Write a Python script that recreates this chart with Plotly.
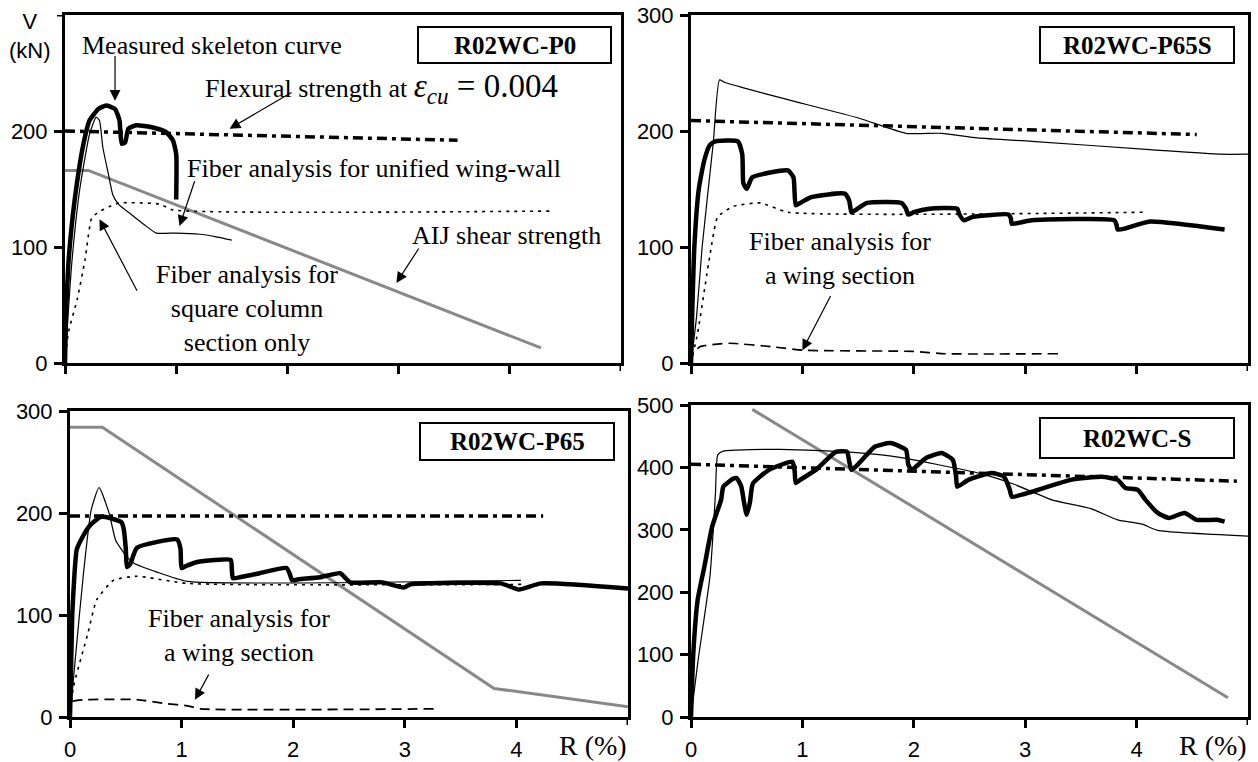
import plotly.graph_objects as go

# ---------------- data (R in %, V in kN) ----------------
# R02WC-P0 (top-left)
tl_meas_x = [0, 0.01, 0.03, 0.06, 0.1, 0.16, 0.22, 0.3, 0.37, 0.45, 0.49, 0.51, 0.54, 0.57, 0.64, 0.79, 0.91, 0.97, 1.0, 1.0]
tl_meas_y = [0, 45, 85, 118, 150, 186, 209, 219, 222, 219, 209, 189, 190, 202, 205, 203, 199, 192, 180, 141]
tl_unif_x = [0, 0.02, 0.06, 0.13, 0.22, 0.28, 0.31, 0.34, 0.39, 0.43, 0.48, 0.61, 0.73, 0.82, 1.0, 1.21, 1.35, 1.5]
tl_unif_y = [0, 30, 85, 148, 197, 212, 209, 186, 163, 145, 137, 127, 118, 112, 112, 111, 109, 106]
tl_col_x = [0, 0.03, 0.11, 0.18, 0.24, 0.3, 0.4, 0.49, 0.85, 0.97, 4.4]
tl_col_y = [0, 26, 55, 89, 125, 130, 135, 138, 137, 132, 131]
tl_flex_x = [0, 3.53]
tl_flex_y = [200, 192]
tl_aij_x = [0, 0.21, 4.28]
tl_aij_y = [166, 166, 13]

# R02WC-P65S (top-right)
tr_meas_x = [0, 0.01, 0.03, 0.07, 0.12, 0.17, 0.22, 0.42, 0.46, 0.47, 0.5, 0.55, 0.87, 0.92, 0.94, 0.98, 1.08, 1.38,
             1.42, 1.44, 1.48, 1.58, 1.89, 1.93, 1.95, 2.0, 2.14, 2.39, 2.41, 2.45, 2.53, 2.85, 2.87, 2.88, 2.95,
             3.06, 3.8, 3.82, 3.83, 3.9, 4.12, 4.79]
tr_meas_y = [0, 40, 100, 150, 175, 188, 191, 191, 180, 155, 150, 160, 166, 160, 136, 138, 143, 146,
             140, 130, 132, 138, 138, 133, 128, 130, 133, 133, 128, 123, 126, 128, 125, 120, 121,
             123, 123, 119, 115, 116, 122, 115]
tr_unif_x = [0, 0.05, 0.1, 0.2, 0.255, 0.3, 0.48, 0.87, 1.51, 1.93, 2.25, 2.57, 3.06, 4.12, 4.75, 5.0]
tr_unif_y = [0, 40, 100, 190, 244, 242, 237, 227, 211, 198, 198, 194, 191, 184, 180, 180]
tr_col_x = [0, 0.06, 0.17, 0.24, 0.38, 0.625, 0.87, 4.1]
tr_col_y = [0, 26, 93, 126, 135, 138, 130, 130]
tr_wing_x = [0, 0.02, 0.08, 0.34, 0.73, 1.01, 1.99, 2.28, 3.3]
tr_wing_y = [0, 8, 14, 17, 14, 11, 10, 8, 8]
tr_flex_x = [0, 4.54]
tr_flex_y = [209, 197]

# R02WC-P65 (bottom-left)
bl_meas_x = [0, 0.01, 0.02, 0.04, 0.06, 0.11, 0.18, 0.27, 0.32, 0.46, 0.48, 0.5, 0.51, 0.54, 0.6, 0.96, 0.99, 1.0,
             1.04, 1.14, 1.44, 1.45, 1.46, 1.52, 1.7, 1.94, 1.97, 1.99, 2.05, 2.24, 2.42, 2.47, 2.51, 2.8, 2.99,
             3.05, 3.86, 4.02, 4.22, 5.0]
bl_meas_y = [0, 50, 100, 140, 164, 176, 188, 196, 196, 191, 185, 165, 147, 150, 166, 174, 165, 146,
             148, 152, 154, 145, 136, 137, 141, 146, 140, 134, 135, 137, 141, 136, 132, 132, 127,
             130, 131, 125, 131, 126]
bl_unif_x = [0, 0.05, 0.12, 0.19, 0.26, 0.35, 0.41, 0.51, 0.57, 0.78, 1.05, 4.04]
bl_unif_y = [0, 60, 140, 203, 225, 200, 173, 157, 151, 142, 133, 134]
bl_col_x = [0, 0.03, 0.16, 0.24, 0.39, 0.6, 1.05, 4.06]
bl_col_y = [0, 29, 82, 115, 134, 138, 131, 130]
bl_wing_x = [0, 0.02, 0.15, 0.6, 0.87, 1.05, 1.17, 3.26]
bl_wing_y = [0, 15, 17, 17, 13, 11, 8, 8]
bl_flex_x = [0, 4.24]
bl_flex_y = [197, 197]
bl_aij_x = [0, 0.29, 3.8, 5.0]
bl_aij_y = [284, 284, 28, 10]

# R02WC-S (bottom-right)
br_meas_x = [0, 0.02, 0.06, 0.12, 0.19, 0.27, 0.29, 0.38, 0.41, 0.45, 0.48, 0.5, 0.53, 0.555, 0.7, 0.91, 0.93,
             0.94, 0.98, 1.12, 1.3, 1.4, 1.42, 1.44, 1.5, 1.65, 1.79, 1.93, 1.95, 1.98, 2.11, 2.25, 2.35, 2.38,
             2.39, 2.49, 2.7, 2.81, 2.86, 2.88, 3.06, 3.41, 3.69, 3.83, 3.9, 4.01, 4.08, 4.19, 4.29, 4.43,
             4.54, 4.72, 4.79]
br_meas_y = [0, 100, 188, 241, 305, 348, 369, 382, 383, 370, 340, 324, 345, 374, 396, 409, 395,
             375, 380, 396, 425, 425, 410, 396, 405, 433, 439, 428, 405, 396, 415, 423, 412, 385,
             369, 380, 391, 385, 365, 353, 361, 380, 385, 380, 367, 364, 348, 327, 319, 327,
             316, 316, 313]
br_unif_x = [0, 0.06, 0.17, 0.2, 0.22, 0.24, 0.29, 0.8, 1.4, 1.8, 2.2, 2.6, 2.9, 3.24, 3.59, 3.83, 4.05, 4.19, 5.0]
br_unif_y = [0, 86, 225, 300, 360, 420, 426, 429, 425, 418, 405, 390, 373, 348, 334, 316, 309, 299, 290]
br_flex_x = [0, 4.9]
br_flex_y = [405, 378]
br_aij_x = [0.55, 4.82]
br_aij_y = [493, 31]

panel_titles = ["R02WC-P0", "R02WC-P65S", "R02WC-P65", "R02WC-S"]
x_ticks = [0, 1, 2, 3, 4]
x_ticktext = ["0", "1", "2", "3", "4"]
x_max = 5

# ---------------- layout helpers ----------------
W, H = 1258, 762
def fx(px):
    return px / W
def fy(py):
    return 1 - py / H

SERIF = "Liberation Serif, Times New Roman, serif"
SANS = "Liberation Sans, Arial, sans-serif"
GREY = "#888888"

fig = go.Figure()

def add_line(ax, x, y, width, dash="solid", color="black", shape="linear"):
    fig.add_trace(go.Scatter(x=x, y=y, mode="lines", xaxis="x" + ax, yaxis="y" + ax,
                             showlegend=False, hoverinfo="skip",
                             line=dict(color=color, width=width, dash=dash, shape=shape,
                                       smoothing=0.5 if shape == "spline" else None)))

FLEX = "10px,5px,4px,5px"
DOT = "3px,5px"
DASH = "10px,6px"

# top-left  (axis "")
add_line("", tl_aij_x, tl_aij_y, 3, color=GREY)
add_line("", tl_col_x, tl_col_y, 1.6, DOT, shape="spline")
add_line("", tl_flex_x, tl_flex_y, 3.5, FLEX)
add_line("", tl_unif_x, tl_unif_y, 1.2, shape="spline")
add_line("", tl_meas_x, tl_meas_y, 4.5, shape="spline")
# top-right (axis 2)
add_line("2", tr_col_x, tr_col_y, 1.6, DOT, shape="spline")
add_line("2", tr_wing_x, tr_wing_y, 1.6, DASH, shape="spline")
add_line("2", tr_flex_x, tr_flex_y, 3.5, FLEX)
add_line("2", tr_unif_x, tr_unif_y, 1.2, shape="spline")
add_line("2", tr_meas_x, tr_meas_y, 4.5, shape="spline")
# bottom-left (axis 3)
add_line("3", bl_aij_x, bl_aij_y, 3, color=GREY)
add_line("3", bl_col_x, bl_col_y, 1.6, DOT, shape="spline")
add_line("3", bl_wing_x, bl_wing_y, 1.8, DASH, shape="spline")
add_line("3", bl_flex_x, bl_flex_y, 3.5, FLEX)
add_line("3", bl_unif_x, bl_unif_y, 1.2, shape="spline")
add_line("3", bl_meas_x, bl_meas_y, 4.5, shape="spline")
# bottom-right (axis 4)
add_line("4", br_aij_x, br_aij_y, 3, color=GREY)
add_line("4", br_flex_x, br_flex_y, 3.5, FLEX)
add_line("4", br_unif_x, br_unif_y, 1.2, shape="spline")
add_line("4", br_meas_x, br_meas_y, 4.5, shape="spline")

# axes
panels = [
    ("", (65, 621), (15, 363), 300, False),
    ("2", (691, 1248), (15, 363), 300, False),
    ("3", (70, 628), (411, 717), 300, True),
    ("4", (691, 1248), (405, 717), 500, True),
]
common = dict(showline=True, linewidth=3, linecolor="black", mirror=True, ticks="outside",
              ticklen=8, tickwidth=3, tickcolor="black", showgrid=False, zeroline=False,
              automargin=False, tickfont=dict(family=SANS, size=22, color="black"))
lay = {}
shapes = []
for key, (x0, x1), (y0, y1), ymax, xlab in panels:
    yt = list(range(0, ymax + 1, 100))
    if key == "":
        yt = yt[:-1]
        # unlabeled tick at the top of the V axis
        shapes.append(dict(type="line", xref="x domain", yref="y", x0=0, x1=-8 / (x1 - x0),
                           y0=ymax, y1=ymax, line=dict(color="black", width=3)))
    lay["xaxis" + key] = dict(domain=[fx(x0), fx(x1)], range=[0, x_max], anchor="y" + key,
                              tickvals=x_ticks, ticktext=x_ticktext, showticklabels=xlab,
                              ticklabelstandoff=3, **common)
    lay["yaxis" + key] = dict(domain=[fy(y1), fy(y0)], range=[0, ymax], anchor="x" + key,
                              tickvals=yt, ticktext=[str(v) for v in yt], ticklabelstandoff=2, **common)
    # unlabeled tick at R = 5 %
    shapes.append(dict(type="line", xref="x" + key, yref="y" + key + " domain", x0=x_max, x1=x_max,
                       y0=0, y1=-8 / (y1 - y0), line=dict(color="black", width=3)))
fig.update_layout(**lay)

# title boxes
boxes = [((418, 611), (27, 63)), ((1040, 1234), (27, 63)), ((420, 614), (423, 460)), ((1040, 1234), (418, 458))]
ann = []
for title, ((bx0, bx1), (by0, by1)) in zip(panel_titles, boxes):
    shapes.append(dict(type="rect", xref="paper", yref="paper", x0=fx(bx0), x1=fx(bx1), y0=fy(by1), y1=fy(by0),
                       line=dict(color="black", width=2), fillcolor="white", layer="above"))
    ann.append(dict(xref="paper", yref="paper", x=fx((bx0 + bx1) / 2), y=fy((by0 + by1) / 2),
                    text="<b>" + title + "</b>", showarrow=False, xanchor="center", yanchor="middle",
                    font=dict(family=SERIF, size=25, color="black")))

TXT = dict(family=SERIF, size=26, color="black")

def label(ax, x, y, text, xanchor="center"):
    ann.append(dict(xref="x" + ax, yref="y" + ax, x=x, y=y, text=text, showarrow=False,
                    xanchor=xanchor, yanchor="middle", font=TXT, align="center"))

def arrow(ax, hx, hy, tx, ty):
    ann.append(dict(xref="x" + ax, yref="y" + ax, axref="x" + ax, ayref="y" + ax,
                    x=hx, y=hy, ax=tx, ay=ty, text="", showarrow=True,
                    arrowhead=2, arrowsize=1.8, arrowwidth=1.2, arrowcolor="black"))

MATH = "font-family:Liberation Serif;font-size:33px"
# top-left texts
label("", 1.24, 237,
      "Flexural strength at <span style='" + MATH + "'><i>ε</i><sub><i>cu</i></sub> = 0.004</span>",
      xanchor="left")
label("", 1.32, 274, "Measured skeleton curve")
label("", 1.08, 168, "Fiber analysis for unified wing-wall", xanchor="left")
label("", 1.64, 47, "Fiber analysis for<br>square column<br>section only")
label("", 3.10, 110, "AIJ shear strength", xanchor="left")
arrow("", 0.45, 226, 0.45, 266)
arrow("", 1.48, 202, 2.05, 234)
arrow("", 1.03, 118, 1.17, 158)
arrow("", 0.31, 124, 0.655, 61)
arrow("", 2.98, 69, 3.19, 100)
# top-right
label("2", 1.34, 90, "Fiber analysis for<br>a wing section")
arrow("2", 1.0, 11, 1.26, 59)
# bottom-left
label("3", 1.51, 80, "Fiber analysis for<br>a wing section")
arrow("3", 1.12, 17, 1.25, 43)

# axis titles
ann.append(dict(xref="paper", yref="paper", x=fx(30), y=fy(36), text="V<br>(kN)", showarrow=False,
                xanchor="center", yanchor="middle", font=dict(family=SANS, size=22, color="black")))
for xr in (629, 1249):
    ann.append(dict(xref="paper", yref="paper", x=fx(xr), y=fy(745), text="R (%)", showarrow=False,
                    xanchor="right", yanchor="middle", font=dict(family=SERIF, size=28, color="black")))

fig.update_layout(width=W, height=H, margin=dict(l=0, r=0, t=0, b=0, pad=0, autoexpand=False),
                  paper_bgcolor="white", plot_bgcolor="white", shapes=shapes, annotations=ann)
fig.write_html("out.html", config={"displayModeBar": False},
               post_script="document.body.style.margin='0';document.body.style.overflow='hidden';"
                           "document.documentElement.style.overflow='hidden';")
